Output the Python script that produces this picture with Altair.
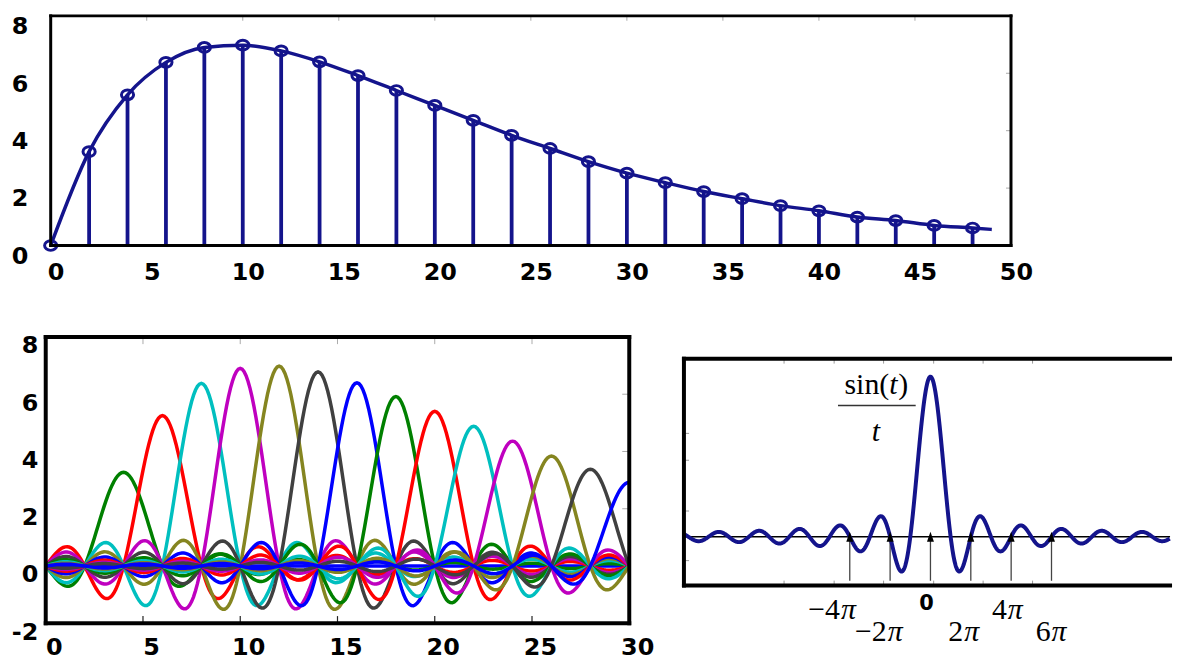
import altair as alt
import numpy as np
import pandas as pd

NAVY = "#14148c"

# ---------------- top panel: samples ----------------
SAMPLE_T = [0, 2, 4, 6, 8, 10, 12, 14, 16, 18, 20, 22, 24, 26, 28, 30, 32, 34, 36, 38, 40, 42, 44, 46, 48]
SAMPLE_V = [0.0, 3.27, 5.25, 6.38, 6.90, 6.98, 6.78, 6.40, 5.92, 5.40, 4.88, 4.36, 3.84, 3.38,
            2.92, 2.52, 2.19, 1.88, 1.63, 1.39, 1.21, 0.99, 0.87, 0.70, 0.61]
ENV_T = SAMPLE_T + [49]
ENV_V = SAMPLE_V + [0.56]
TOP_X_TICKS = [0, 5, 10, 15, 20, 25, 30, 35, 40, 45, 50]
TOP_Y_TICKS = [0, 2, 4, 6, 8]

# ---------------- bottom-left panel ----------------
BL_X_TICKS = [0, 5, 10, 15, 20, 25, 30]
BL_Y_TICKS = [-2, 0, 2, 4, 6, 8]
KERNEL_SHIFT = 2
KERNEL_HALF = 2
N_KERNELS = 15
LINE_COLORS = ["#0000ff", "#008000", "#ff0000", "#00bfbf", "#bf00bf", "#858520", "#404040"]

# ---------------- bottom-right panel ----------------
ARROW_T = [-4 * np.pi, -2 * np.pi, 0.0, 2 * np.pi, 4 * np.pi, 6 * np.pi]
PI_NUM = ["\u22124", "\u22122", "2", "4", "6"]
PI_AT = [-14.1, -6.8, 5.1, 11.9, 18.7]
PI_Y = [-0.46, -0.596, -0.596, -0.46, -0.596]
BR_TICK_T = [-22.8, -15.0, -7.3, 0.5, 8.2, 15.9]
BR_TICK_Y = [0.646, 0.478, 0.161, -0.149]

T_LEFT, T_RIGHT = -38.39, 37.31
Y_LOW, Y_HIGH = -0.5404, 1.2484
F_TOP, F_BOT = 1.112, -0.304

SANS = "DejaVu Sans"
SERIF = "Liberation Serif"


def axis(values, pad, offset, size=24):
    return alt.Axis(values=values, title=None, domain=False, ticks=False, grid=False,
                    labelFont=SANS, labelFontWeight="bold", labelFontSize=size,
                    labelColor="black", labelPadding=pad, labelOffset=offset,
                    labelFlush=False, labelOverlap=False, labelExpr="'' + datum.value")


def segs(rows):
    return pd.DataFrame(rows, columns=["x", "x2", "y", "y2"])


class Panel:
    def __init__(self, xs, ys, ax=None, ay=None):
        self.xs, self.ys, self.ax, self.ay = xs, ys, ax, ay

    def X(self, f):
        return alt.X(f, scale=self.xs, axis=self.ax)

    def Y(self, f):
        return alt.Y(f, scale=self.ys, axis=self.ay)

    def rules(self, df, color, width, cap="square"):
        return alt.Chart(df).mark_rule(color=color, strokeWidth=width, strokeCap=cap).encode(
            x=self.X("x:Q"), x2="x2:Q", y=self.Y("y:Q"), y2="y2:Q")


# ======================= TOP =======================
P = Panel(alt.Scale(domain=[-0.2588, 50], nice=False, zero=False),
          alt.Scale(domain=[0, 8], nice=False, zero=False),
          axis(TOP_X_TICKS, 15, 5), axis(TOP_Y_TICKS, 18, 11))

top_frame = P.rules(segs([[0, 0, 0, 8], [50, 50, 0, 8], [0, 50, 8, 8], [0, 50, 0, 0]]), "black", 3)
top_ticks = P.rules(segs([[v, v, 8, 7.83] for v in TOP_X_TICKS[1:-1]] +
                         [[50, 49.74, v, v] for v in [2, 4, 6]]), "#aaaaaa", 1, cap="butt")

stem_df = pd.DataFrame({"t": SAMPLE_T, "v": SAMPLE_V, "z": [0] * len(SAMPLE_T)})
env_df = pd.DataFrame({"t": ENV_T, "v": ENV_V})

stems = alt.Chart(stem_df).mark_rule(color=NAVY, strokeWidth=3.8).encode(
    x=P.X("t:Q"), y=P.Y("z:Q"), y2="v:Q")
env = alt.Chart(env_df).mark_line(color=NAVY, strokeWidth=3.5, interpolate="monotone").encode(
    x=P.X("t:Q"), y=P.Y("v:Q"))
ELLIPSE = "M-1,0 A1,0.8 0 1,0 1,0 A1,0.8 0 1,0 -1,0 Z"
circles = alt.Chart(stem_df).mark_point(shape=ELLIPSE, size=150, filled=False, color=NAVY,
                                        strokeWidth=3, opacity=1).encode(
    x=P.X("t:Q"), y=P.Y("v:Q"))

top = alt.layer(top_ticks, stems, env, circles, top_frame).properties(width=971, height=231)

# ======================= BOTTOM LEFT =======================
Q = Panel(alt.Scale(domain=[0, 30], nice=False, zero=False),
          alt.Scale(domain=[-2, 8], nice=False, zero=False),
          axis(BL_X_TICKS, 12, 8), axis(BL_Y_TICKS, 8, 9))

tgrid = np.round(np.arange(0, 30.0001, 0.1), 2)
rows = []
for k in range(N_KERNELS):
    c = SAMPLE_T[k] + KERNEL_SHIFT
    a = SAMPLE_V[k]
    yv = a * np.sinc((tgrid - c) / KERNEL_HALF)
    for tt, yy in zip(tgrid, yv):
        rows.append((k, LINE_COLORS[k % len(LINE_COLORS)], float(tt), float(yy)))
kern_df = pd.DataFrame(rows, columns=["k", "col", "t", "y"])

kernels = alt.Chart(kern_df).mark_line(strokeWidth=3.5).encode(
    x=Q.X("t:Q"), y=Q.Y("y:Q"),
    color=alt.Color("col:N", scale=None), detail="k:N", order="t:Q")

bl_frame = Q.rules(segs([[0, 0, -2, 8], [30, 30, -2, 8], [0, 30, 8, 8], [0, 30, -2, -2]]), "black", 4)
bl_ticks_dark = Q.rules(segs([[v, v, -2, -1.75] for v in BL_X_TICKS[1:-1]]), "#222222", 1.2, cap="butt")
bl_ticks_light = Q.rules(segs([[v, v, 8, 7.75] for v in BL_X_TICKS[1:-1]] +
                              [[30, 29.64, v, v] for v in [2, 4, 6]]), "#aaaaaa", 1, cap="butt")

bl = alt.layer(kernels, bl_ticks_dark, bl_ticks_light, bl_frame).properties(width=587, height=288)

# ======================= BOTTOM RIGHT =======================
R = Panel(alt.Scale(domain=[T_LEFT, T_RIGHT], nice=False, zero=False),
          alt.Scale(domain=[Y_LOW, Y_HIGH], nice=False, zero=False))

tb = np.arange(T_LEFT, T_RIGHT, 0.05)
sinc_df = pd.DataFrame({"t": tb, "y": np.sinc(tb / np.pi)})

br_frame = R.rules(segs([[T_LEFT, T_LEFT, F_BOT, F_TOP], [T_LEFT, T_RIGHT, F_TOP, F_TOP],
                         [T_LEFT, T_RIGHT, F_BOT, F_BOT]]), "black", 4)
br_ticks = R.rules(segs([[v, v, F_BOT, F_BOT + 0.03] for v in BR_TICK_T] +
                        [[v, v, F_TOP, F_TOP - 0.03] for v in BR_TICK_T] +
                        [[T_LEFT, T_LEFT + 0.8, v, v] for v in BR_TICK_Y]), "#999999", 1, cap="butt")
baseline = R.rules(segs([[T_LEFT, T_RIGHT, 0, 0]]), "black", 1.3, cap="butt")
sinc_line = alt.Chart(sinc_df).mark_line(color=NAVY, strokeWidth=4).encode(
    x=R.X("t:Q"), y=R.Y("y:Q"))

arrow_df = pd.DataFrame({"t": ARROW_T, "lo": [-0.275] * len(ARROW_T), "hi": [0.0] * len(ARROW_T)})
shafts = alt.Chart(arrow_df).mark_rule(color="#444444", strokeWidth=1.3).encode(
    x=R.X("t:Q"), y=R.Y("lo:Q"), y2="hi:Q")
TRI = "M0,-1 L0.7,1 L-0.7,1 Z"
heads = alt.Chart(arrow_df).mark_point(shape=TRI, size=100, filled=True, color="black",
                                       opacity=1, strokeWidth=0).encode(
    x=R.X("t:Q"), y=R.Y("hi:Q"))

lab_df = pd.DataFrame({"t": PI_AT, "y": PI_Y, "num": PI_NUM, "pi": ["\u03c0"] * len(PI_AT)})
lab_num = alt.Chart(lab_df).mark_text(align="right", baseline="middle", font=SERIF,
                                      fontSize=30, color="black").encode(
    x=R.X("t:Q"), y=R.Y("y:Q"), text="num:N")
lab_pi = alt.Chart(lab_df).mark_text(align="left", baseline="middle", font=SERIF, fontSize=30,
                                     fontStyle="italic", color="black", dx=1).encode(
    x=R.X("t:Q"), y=R.Y("y:Q"), text="pi:N")
zero_df = pd.DataFrame({"t": [-0.6], "y": [-0.42], "s": ["0"]})
lab_zero = alt.Chart(zero_df).mark_text(align="center", baseline="middle", font=SANS,
                                        fontSize=21, fontWeight="bold", color="black").encode(
    x=R.X("t:Q"), y=R.Y("y:Q"), text="s:N")

# fraction sin(t) / t
num_df = pd.DataFrame({"t": [-6.42], "y": [0.894], "a": ["sin("], "b": ["t"], "c": [")"]})
f_sin = alt.Chart(num_df).mark_text(
    align="right", baseline="alphabetic", font=SERIF, fontSize=30, color="black").encode(
    x=R.X("t:Q"), y=R.Y("y:Q"), text="a:N")
f_t = alt.Chart(num_df).mark_text(
    align="left", baseline="alphabetic", font=SERIF, fontSize=30, fontStyle="italic",
    color="black").encode(x=R.X("t:Q"), y=R.Y("y:Q"), text="b:N")
f_par = alt.Chart(num_df).mark_text(
    align="left", baseline="alphabetic", font=SERIF, fontSize=30, color="black", dx=9).encode(
    x=R.X("t:Q"), y=R.Y("y:Q"), text="c:N")
f_bar = R.rules(segs([[-14.4, -2.3, 0.82, 0.82]]), "#333333", 1.5, cap="butt")
den_df = pd.DataFrame({"t": [-8.5], "y": [0.60], "s": ["t"]})
f_den = alt.Chart(den_df).mark_text(align="center", baseline="alphabetic", font=SERIF,
                                    fontSize=30, fontStyle="italic", color="black").encode(
    x=R.X("t:Q"), y=R.Y("y:Q"), text="s:N")

br = alt.layer(br_ticks, baseline, shafts, sinc_line, heads, br_frame,
               lab_num, lab_pi, lab_zero, f_sin, f_t, f_par, f_bar, f_den
               ).properties(width=489, height=288)

bottom = alt.hconcat(bl, br, spacing=55, bounds="flush")
chart = alt.vconcat(top, bottom, spacing=92, bounds="flush").properties(
    padding={"left": 11, "top": 11, "right": 0, "bottom": 0}, background="white"
).configure_view(stroke=None)

chart.save("out.html", embed_options={"renderer": "svg", "actions": False})
